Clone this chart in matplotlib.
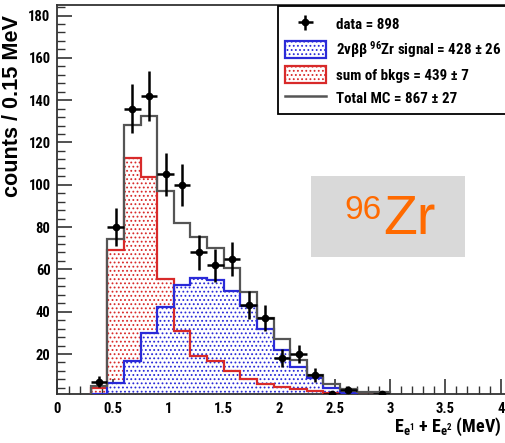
import numpy as np
import matplotlib
matplotlib.use("Agg")
import matplotlib.pyplot as plt
from matplotlib.patches import Patch, Rectangle
from matplotlib.lines import Line2D
from matplotlib.ticker import MultipleLocator

# Binning: 0.15 MeV bins from 0.3 to 3.0 MeV
bin_edges = np.round(np.arange(0.3, 3.0001, 0.15), 3)
bin_centers = 0.5 * (bin_edges[:-1] + bin_edges[1:])

data_counts = [7, 80, 136, 142, 105, 100, 68, 62, 65, 43, 37, 18, 20, 10, 1, 3, 0, 1]
signal_2nbb = [1, 6.5, 16.5, 30, 42, 52.5, 56, 55, 50, 42.5, 32, 22, 14, 8.5, 4, 1.5, 0.3, 0.1]
sum_bkgs    = [4, 69, 112.5, 103.5, 55.5, 31, 19, 16.5, 12, 8, 5.7, 4.5, 3.5, 2.7, 1.5, 1, 0.5, 0.3]
total_mc    = [5, 74.5, 128.5, 132.5, 97, 82, 75.5, 70, 60.5, 49.5, 37, 27, 17.2, 10, 5.7, 3.3, 2.2, 2.2]

xtick_labels = ["0", "0.5", "1", "1.5", "2", "2.5", "3", "3.5", "4"]
legend_labels = [
    "data = 898",
    "2νββ $^{96}$Zr signal = 428 ± 26",
    "sum of bkgs = 439 ± 7",
    "Total MC = 867 ± 27",
]

# Fonts: ROOT's Helvetica bold looks condensed here
plt.rcParams["font.family"] = ["Roboto Condensed", "DejaVu Sans"]
plt.rcParams["font.weight"] = "bold"
plt.rcParams["mathtext.fontset"] = "custom"
plt.rcParams["mathtext.rm"] = "Roboto Condensed:bold"
plt.rcParams["mathtext.it"] = "Roboto Condensed:bold"
plt.rcParams["mathtext.bf"] = "Roboto Condensed:bold"
plt.rcParams["mathtext.default"] = "rm"
plt.rcParams["hatch.linewidth"] = 0.8

c_blue = "#2a2ad8"
c_red = "#d82a2a"
c_gray = "#555555"

W, H = 506, 443
fig = plt.figure(figsize=(W / 100, H / 100), dpi=100)
ax = fig.add_axes([57.5 / W, (H - 394) / H, 465.4 / W, 389 / H])

# Filled (dotted) histograms
ax.stairs(sum_bkgs, bin_edges, fill=True, facecolor="none", edgecolor=c_red,
          hatch="....", linewidth=0, zorder=1)
ax.stairs(signal_2nbb, bin_edges, fill=True, facecolor="white", edgecolor=c_blue,
          hatch="....", linewidth=0, zorder=2)
# Outlines
ax.stairs(sum_bkgs, bin_edges, color=c_red, linewidth=1.6, zorder=3)
ax.stairs(signal_2nbb, bin_edges, color=c_blue, linewidth=1.6, zorder=3)
ax.stairs(total_mc, bin_edges, color=c_gray, linewidth=1.6, zorder=4)

# Data points with sqrt(N) errors
data = np.array(data_counts, dtype=float)
keep = data > 0
err = ax.errorbar(bin_centers[keep], data[keep], xerr=0.075, yerr=np.sqrt(data[keep]),
                  fmt="o", color="black", ms=4.5, elinewidth=1.8, capsize=0, zorder=5)

ax.set_xlim(0, 4.2)
ax.set_ylim(1.1, 185)
ax.set_xticks(np.arange(0, 4.01, 0.5))
ax.set_xticklabels(xtick_labels)
ax.set_yticks(np.arange(20, 181, 20))
ax.xaxis.set_minor_locator(MultipleLocator(0.1))
ax.yaxis.set_minor_locator(MultipleLocator(4))
ax.tick_params(direction="in", which="major", length=11, width=1.2, labelsize=10.5,
               color="#333333", top=False, right=False)
ax.tick_params(direction="in", which="minor", length=6, width=1.0, color="#333333",
               top=False, right=False)
ax.tick_params(axis="y", pad=5)
ax.tick_params(axis="x", pad=6)
for lab in ax.get_xticklabels() + ax.get_yticklabels():
    lab.set_fontweight("bold")
for sp in ax.spines.values():
    sp.set_color("#333333")
    sp.set_linewidth(1.3)

# Axis titles
fig.text(13 / W, 1 - 15 / H, "counts / 0.15 MeV", rotation=90, ha="center", va="top",
         fontsize=15.6, fontweight="bold", family=["Liberation Sans", "DejaVu Sans"])
fig.text(394 / W, 1 - 432 / H, "$E_{e^{1}}$ + $E_{e^{2}}$ (MeV)", ha="left",
         va="baseline", fontsize=13, fontweight="bold")

# Legend: frame drawn by hand so it runs off the right edge like the original
frame = Rectangle((278 / W, 1 - 114 / H), 260 / W, 108 / H, transform=fig.transFigure,
                  facecolor="white", edgecolor="black", linewidth=1.3,
                  clip_on=False, zorder=6)
ax.add_patch(frame)
handles = [
    err,
    Patch(facecolor="white", edgecolor=c_blue, hatch="....", linewidth=1.6),
    Patch(facecolor="white", edgecolor=c_red, hatch="....", linewidth=1.6),
    Line2D([], [], color=c_gray, linewidth=1.8),
]
leg = ax.legend(handles, legend_labels, loc="upper left",
                bbox_to_anchor=(278 / W, 1 - 9 / H), bbox_transform=fig.transFigure,
                borderaxespad=0, frameon=False, fontsize=10.8,
                handlelength=2.75, handleheight=1.35, handletextpad=0.7,
                labelspacing=0.42, borderpad=0.45)
leg.set_zorder(7)
for t in leg.get_texts():
    t.set_fontweight("bold")

# 96Zr label box
fig.add_artist(Rectangle((311 / W, 1 - 256.7 / H), 154 / W, 80.7 / H,
                         transform=fig.transFigure, facecolor="#d9d9d9",
                         edgecolor="none", zorder=6))
fig.text(344 / W, 1 - 219.3 / H, "96", fontsize=24, color="#ff6a00",
         family=["Liberation Sans", "DejaVu Sans"], fontweight="normal", zorder=7)
fig.text(383 / W, 1 - 234 / H, "Zr", fontsize=40, color="#ff6a00",
         family=["Liberation Sans", "DejaVu Sans"], fontweight="normal", zorder=7)

fig.savefig("out.png", dpi=100)
